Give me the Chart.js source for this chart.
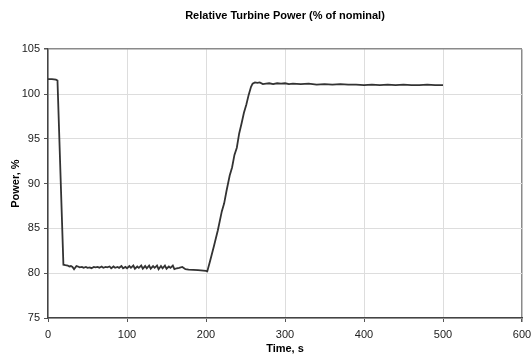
<!DOCTYPE html>
<html>
<head>
<meta charset="utf-8">
<script src="https://cdn.jsdelivr.net/npm/chart.js@4.4.1/dist/chart.umd.min.js"></script>
<style>
  html, body { margin: 0; padding: 0; background: #fff; }
  #wrap { width: 531px; height: 356px; }
</style>
</head>
<body>
<div id="wrap"><canvas id="powerChart"></canvas></div>
<script>
// Zeitachse (s) und relative Leistung (%)
const timeValues = [
  0, 5, 10, 12, 19.5, 22, 25, 27, 29, 31, 33, 36, 38, 40, 43, 45, 48, 50, 53, 55,
  58, 60, 63, 65, 68, 70, 73, 75, 78, 80, 83, 85, 88, 90, 93, 95, 98, 100, 103, 105,
  108, 110, 113, 115, 118, 120, 123, 125, 128, 130, 133, 135, 138, 140, 143, 145, 148, 150, 153, 155,
  158, 160, 163, 166, 170, 174, 178, 190, 200, 201.6,
  205, 210, 215, 220, 223, 226, 230, 233, 236, 239, 242, 245, 248, 251, 254, 257, 259,
  262, 265, 268, 272, 276, 280, 285, 290, 295, 300, 305, 310, 320, 330, 340, 350,
  360, 370, 380, 390, 400, 410, 420, 430, 440, 450, 460, 470, 480, 490, 500
];
const powerValues = [
  101.65, 101.65, 101.6, 101.5, 80.95, 80.9, 80.85, 80.75, 80.8, 80.7, 80.45, 80.8, 80.75, 80.65, 80.7, 80.6, 80.7, 80.6, 80.65, 80.55,
  80.7, 80.65, 80.7, 80.6, 80.75, 80.6, 80.7, 80.65, 80.75, 80.55, 80.75, 80.6, 80.7, 80.6, 80.8, 80.55, 80.7, 80.55, 80.8, 80.6,
  80.85, 80.5, 80.75, 80.6, 80.85, 80.5, 80.8, 80.55, 80.85, 80.5, 80.8, 80.6, 80.85, 80.45, 80.8, 80.55, 80.85, 80.5, 80.75, 80.6,
  80.85, 80.45, 80.55, 80.6, 80.7, 80.45, 80.4, 80.35, 80.25, 80.2,
  81.3, 83.0, 84.8, 86.9, 87.8, 89.2, 90.9, 91.8, 93.2, 94.0, 95.6, 96.7, 97.9, 98.8, 99.9, 100.8, 101.15,
  101.3, 101.25, 101.3, 101.1, 101.15, 101.2, 101.1, 101.2, 101.15, 101.2, 101.1, 101.15, 101.1, 101.15, 101.05, 101.1,
  101.05, 101.1, 101.05, 101.05, 101.0, 101.05, 101.0, 101.05, 101.0, 101.05, 101.0, 101.0, 101.05, 101.0, 101.0
];
const xTickMin = 0, xTickMax = 600, xTickStep = 100;
const yTickMin = 75, yTickMax = 105, yTickStep = 5;

const points = timeValues.map((t, i) => ({ x: t, y: powerValues[i] }));

const ctx = document.getElementById('powerChart').getContext('2d');
const tickFont = { family: 'Liberation Sans, Arial, sans-serif', size: 11 };
const boldFont = { family: 'Liberation Sans, Arial, sans-serif', size: 11, weight: 'bold' };

new Chart(ctx, {
  type: 'line',
  data: {
    datasets: [{
      label: 'Power',
      data: points,
      borderColor: '#333333',
      borderWidth: 1.8,
      pointRadius: 0,
      tension: 0,
      fill: false
    }]
  },
  options: {
    responsive: true,
    maintainAspectRatio: false,
    animation: false,
    layout: { padding: { left: 0, right: 9, top: 0, bottom: 0 } },
    plugins: {
      legend: { display: false },
      tooltip: { enabled: false },
      title: {
        display: true,
        text: 'Relative Turbine Power (% of nominal)',
        color: '#000',
        font: boldFont,
        fullSize: false,
        padding: { top: 9, bottom: 27 }
      }
    },
    scales: {
      x: {
        type: 'linear',
        min: xTickMin,
        max: xTickMax,
        ticks: { stepSize: xTickStep, color: '#222', font: tickFont, padding: 6, maxRotation: 0 },
        grid: {
          color: c => c.tick && c.tick.value === xTickMax ? '#8a8a8a' : '#dddddd',
          lineWidth: c => c.tick && c.tick.value === xTickMax ? 1.5 : 1,
          drawTicks: true,
          tickLength: 4,
          tickColor: '#555'
        },
        border: { color: '#444', width: 1.5 },
        title: { display: true, text: 'Time, s', color: '#000', font: boldFont, padding: { top: 0, bottom: 0 } },
        afterFit: scale => {
          scale.height = 38;
          scale.paddingLeft = 0;
          scale.paddingRight = 0;
        }
      },
      y: {
        min: yTickMin,
        max: yTickMax,
        ticks: { stepSize: yTickStep, color: '#222', font: tickFont, padding: 4 },
        grid: {
          color: c => c.tick && c.tick.value === yTickMax ? '#8a8a8a' : '#dddddd',
          lineWidth: c => c.tick && c.tick.value === yTickMax ? 1.5 : 1,
          drawTicks: true,
          tickLength: 4,
          tickColor: '#555'
        },
        border: { color: '#444', width: 1.5 },
        title: { display: true, text: 'Power, %', color: '#000', font: boldFont, padding: { top: 9, bottom: 0 } },
        afterFit: scale => { scale.width = 48; }
      }
    }
  }
});
</script>
</body>
</html>
